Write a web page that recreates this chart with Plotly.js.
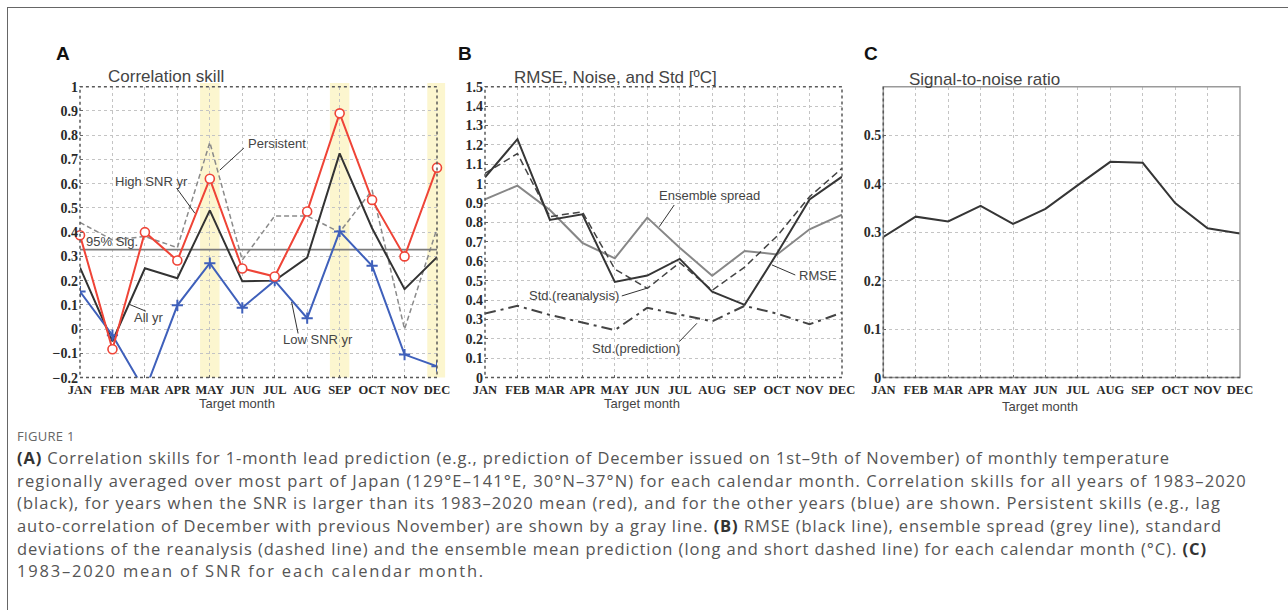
<!DOCTYPE html>
<html><head><meta charset="utf-8">
<script src="https://cdn.plot.ly/plotly-3.0.1.min.js"></script>
<style>
html,body{margin:0;padding:0;background:#fff;width:1288px;height:610px;overflow:hidden;}
#card{position:absolute;left:7px;top:7px;width:1290px;height:610px;border-left:1px solid #666;border-top:1px solid #666;}
#plot{position:absolute;left:0;top:0;width:1288px;height:420px;}
#cap{position:absolute;left:17px;top:426px;font-family:'Open Sans',sans-serif;color:#555;}
#cap .fig{font-size:13px;letter-spacing:0.3px;color:#666;height:21px;line-height:21px;}
#cap .ln{font-size:16.5px;line-height:22.7px;height:22.7px;white-space:nowrap;}
#cap .ln span{display:inline-block;white-space:nowrap;}
#cap b{color:#333;font-weight:700;}
</style></head>
<body>
<div id="card"></div>
<div id="plot"></div>
<div id="cap">
<div class="fig">FIGURE 1</div>
<div class="ln"><span data-end="1170"><b>(A)</b> Correlation skills for 1-month lead prediction (e.g., prediction of December issued on 1st–9th of November) of monthly temperature</span></div>
<div class="ln"><span data-end="1247">regionally averaged over most part of Japan (129°E–141°E, 30°N–37°N) for each calendar month. Correlation skills for all years of 1983–2020</span></div>
<div class="ln"><span data-end="1221">(black), for years when the SNR is larger than its 1983–2020 mean (red), and for the other years (blue) are shown. Persistent skills (e.g., lag</span></div>
<div class="ln"><span data-end="1222">auto-correlation of December with previous November) are shown by a gray line. <b>(B)</b> RMSE (black line), ensemble spread (grey line), standard</span></div>
<div class="ln"><span data-end="1207">deviations of the reanalysis (dashed line) and the ensemble mean prediction (long and short dashed line) for each calendar month (°C). <b>(C)</b></span></div>
<div class="ln"><span data-end="485">1983–2020 mean of SNR for each calendar month.</span></div>
</div>
<script>
// ---- data ----
const months = ['JAN','FEB','MAR','APR','MAY','JUN','JUL','AUG','SEP','OCT','NOV','DEC'];
const corrAll        = [0.254,-0.05,0.251,0.21,0.49,0.197,0.20,0.295,0.725,0.416,0.165,0.297];
const corrHighSNR    = [0.387,-0.083,0.40,0.283,0.62,0.25,0.217,0.485,0.89,0.533,0.30,0.666];
const corrLowSNR     = [0.155,-0.025,-0.255,0.098,0.272,0.088,0.20,0.045,0.403,0.261,-0.105,-0.153];
const corrPersistent = [0.44,0.368,0.382,0.336,0.77,0.285,0.467,0.467,0.40,0.573,0.0,0.415];
const sig95 = 0.328;
const highlightMonths = ['MAY','SEP','DEC'];
const rmse          = [1.033,1.23,0.813,0.842,0.493,0.526,0.612,0.443,0.375,0.641,0.919,1.036];
const spread        = [0.919,0.99,0.864,0.695,0.615,0.825,0.67,0.525,0.653,0.635,0.765,0.84];
const stdReanalysis = [1.053,1.155,0.83,0.855,0.56,0.46,0.593,0.45,0.57,0.73,0.933,1.079];
const stdPrediction = [0.33,0.37,0.323,0.285,0.245,0.36,0.325,0.29,0.37,0.33,0.275,0.335];
const snr           = [0.29,0.332,0.322,0.354,0.317,0.348,0.397,0.445,0.443,0.36,0.308,0.297];

// ---- caption fitting (letter spacing so each line ends where the reference's does) ----
document.querySelectorAll('#cap .ln span').forEach(s => {
  const target = +s.dataset.end - 17;
  const w = s.getBoundingClientRect().width;
  const n = s.textContent.length;
  s.style.letterSpacing = ((target - w) / n).toFixed(3) + 'px';
});

// ---- layout helpers ----
const W=1288, H=420;
const px = v => v/W, py = v => 1 - v/H;
const domA=[px(80),px(437)], domB=[px(485),px(842)], domC=[px(883.3),px(1240)];
const domY=[py(377.6),py(86.7)];
const serifX = {family:'Liberation Serif, Times New Roman, serif', size:12.5, color:'#2a2a2a', weight:'bold'};
const serifY = {family:'Liberation Serif, Times New Roman, serif', size:14, color:'#2a2a2a', weight:'bold'};
const sans = 'Liberation Sans, Arial, sans-serif';

function xaxis(dom, anchor){
  return {domain:dom, anchor:anchor, type:'category', range:[0,11], showgrid:true, gridcolor:'#c4c4c4',
    griddash:'dot', gridwidth:1, zeroline:false, showline:false, ticks:'inside', ticklen:3, tickcolor:'#666',
    tickfont:serifX, ticklabelstandoff:3, fixedrange:true};
}
function yaxis(dom, anchor, range, dtick, tickvals){
  const a = {domain:dom, anchor:anchor, range:range, showgrid:true, gridcolor:'#c4c4c4', griddash:'dot', gridwidth:1,
    zeroline:false, showline:false, ticks:'inside', ticklen:3, tickcolor:'#666', tickfont:serifY,
    ticklabelstandoff:1, fixedrange:true};
  if (tickvals) { a.tickmode='array'; a.tickvals=tickvals; } else { a.dtick=dtick; a.tick0=0; }
  return a;
}

const traces = [
  // Panel A
  {x:months, y:corrPersistent, xaxis:'x', yaxis:'y', mode:'lines', line:{color:'#8a8a8a', width:1.5, dash:'5px,3px'}},
  {x:[months[0], months[11]], y:[sig95, sig95], xaxis:'x', yaxis:'y', mode:'lines', line:{color:'#7c7c7c', width:1.8}},
  {x:months, y:corrAll, xaxis:'x', yaxis:'y', mode:'lines', line:{color:'#333', width:2}},
  {x:months, y:corrLowSNR, xaxis:'x', yaxis:'y', mode:'lines+markers', line:{color:'#3f60bb', width:2},
   marker:{symbol:'cross-thin-open', size:8, line:{color:'#3f60bb', width:2}}, cliponaxis:true},
  {x:months, y:corrHighSNR, xaxis:'x', yaxis:'y', mode:'lines+markers', line:{color:'#ef4437', width:2},
   marker:{symbol:'circle', size:9, color:'#fff', line:{color:'#ef4437', width:1.6}}, cliponaxis:false},
  // Panel B
  {x:months, y:spread, xaxis:'x2', yaxis:'y2', mode:'lines', line:{color:'#878787', width:2}},
  {x:months, y:stdReanalysis, xaxis:'x2', yaxis:'y2', mode:'lines', line:{color:'#444', width:1.5, dash:'7px,4px'}},
  {x:months, y:stdPrediction, xaxis:'x2', yaxis:'y2', mode:'lines', line:{color:'#444', width:2, dash:'11px,5px,3px,5px'}},
  {x:months, y:rmse, xaxis:'x2', yaxis:'y2', mode:'lines', line:{color:'#363636', width:2}},
  // Panel C
  {x:months, y:snr, xaxis:'x3', yaxis:'y3', mode:'lines', line:{color:'#363636', width:2}}
];

// highlight bands (panel A) in paper coords derived from the category index
const shapes = [];
highlightMonths.forEach(m => {
  const i = months.indexOf(m);
  const f = v => domA[0] + v/11*(domA[1]-domA[0]);
  const hi = (i === months.length-1) ? 0.25 : 0.3;
  shapes.push({type:'rect', xref:'paper', yref:'paper', x0:f(i-0.3), x1:f(i+hi), y0:domY[0], y1:py(83),
    fillcolor:'#fcf6cf', line:{width:0}, layer:'below'});
});
// frames
['x','x2'].forEach((xr,k) => {
  const yr = ['y','y2'][k];
  shapes.push({type:'rect', xref:xr+' domain', yref:yr+' domain', x0:0, x1:1, y0:0, y1:1,
    line:{color:'#5a5a5a', width:1.5, dash:'dot'}, layer:'above'});
});
shapes.push({type:'rect', xref:'x3 domain', yref:'y3 domain', x0:0, x1:1, y0:0, y1:1, line:{color:'#9a9a9a', width:1.5}});
shapes.push({type:'line', xref:'x3 domain', yref:'y3 domain', x0:0, x1:0, y0:0, y1:1, line:{color:'#5a5a5a', width:1.5, dash:'dot'}});
shapes.push({type:'line', xref:'x3 domain', yref:'y3 domain', x0:0, x1:1, y0:0, y1:0, line:{color:'#5a5a5a', width:1.5, dash:'dot'}});
// leader lines
function leader(xr, yr, x0, y0, x1, y1){
  shapes.push({type:'line', xref:xr, yref:yr, x0:x0, y0:y0, x1:x1, y1:y1, line:{color:'#333', width:1}});
}
leader('x','y', 4.31,0.656, 5.05,0.747);   // Persistent
leader('x','y', 2.98,0.581, 3.54,0.478);   // High SNR yr
leader('x','y', 1.52,0.102, 2.03,0.074);   // All yr
leader('x','y', 6.52,0.112, 6.72,-0.018);  // Low SNR yr
leader('x2','y2', 5.37,0.778, 5.83,0.890); // Ensemble spread
leader('x2','y2', 8.84,0.581, 9.56,0.529); // RMSE
leader('x2','y2', 4.215,0.421, 4.99,0.461);// Std.(reanalysis)
leader('x2','y2', 5.99,0.186, 6.53,0.280); // Std.(prediction)

const lab = (xr,yr,x,y,text,anchor) => ({xref:xr, yref:yr, x:x, y:y, text:text, showarrow:false,
  xanchor:anchor||'left', yanchor:'middle', font:{family:sans, size:13, color:'#444'}});
const annotations = [
  lab('x','y',5.12,0.764,'Persistent'),
  lab('x','y',2.19,0.61,'High SNR yr','center'),
  lab('x','y',1.59,0.046,'All yr'),
  lab('x','y',6.2,-0.044,'Low SNR yr'),
  lab('x','y',0.11,0.36,'95% Sig.'),
  lab('x2','y2',5.29,0.94,'Ensemble spread'),
  lab('x2','y2',9.61,0.524,'RMSE'),
  lab('x2','y2',4.2,0.421,'Std.(reanalysis)','right'),
  lab('x2','y2',6.07,0.148,'Std.(prediction)','right')
];
// titles, panel letters, axis titles
const ptxt = (x,y,text,size,color,anchor,bold) => ({xref:'paper', yref:'paper', x:px(x), y:py(y), text:text, showarrow:false,
  xanchor:anchor, yanchor:'middle', font:{family:sans, size:size, color:color, weight: bold?'bold':'normal'}});
annotations.push(
  ptxt(105.5,76,'Correlation skill',17,'#444','left'),
  ptxt(511.5,77,'RMSE, Noise, and Std [ºC]',17,'#444','left'),
  ptxt(907,79,'Signal-to-noise ratio',17,'#444','left'),
  ptxt(54,54,'A',19,'#111','left',true),
  ptxt(456,54,'B',19,'#111','left',true),
  ptxt(862,54,'C',19,'#111','left',true),
  ptxt(237,403,'Target month',13,'#444','center'),
  ptxt(642,403,'Target month',13,'#444','center'),
  ptxt(1040,406,'Target month',13,'#444','center')
);

const layout = {
  width:W, height:H, margin:{l:0,r:0,t:0,b:0}, showlegend:false,
  paper_bgcolor:'rgba(0,0,0,0)', plot_bgcolor:'rgba(0,0,0,0)',
  xaxis: xaxis(domA,'y'), yaxis: yaxis(domY,'x',[-0.2,1],0.1),
  xaxis2: xaxis(domB,'y2'), yaxis2: yaxis(domY,'x2',[0,1.5],0.1),
  xaxis3: xaxis(domC,'y3'), yaxis3: yaxis(domY,'x3',[0,0.6],null,[0,0.1,0.2,0.3,0.4,0.5]),
  shapes:shapes, annotations:annotations
};
Plotly.newPlot('plot', traces, layout, {staticPlot:true, displayModeBar:false});
</script>
</body></html>
